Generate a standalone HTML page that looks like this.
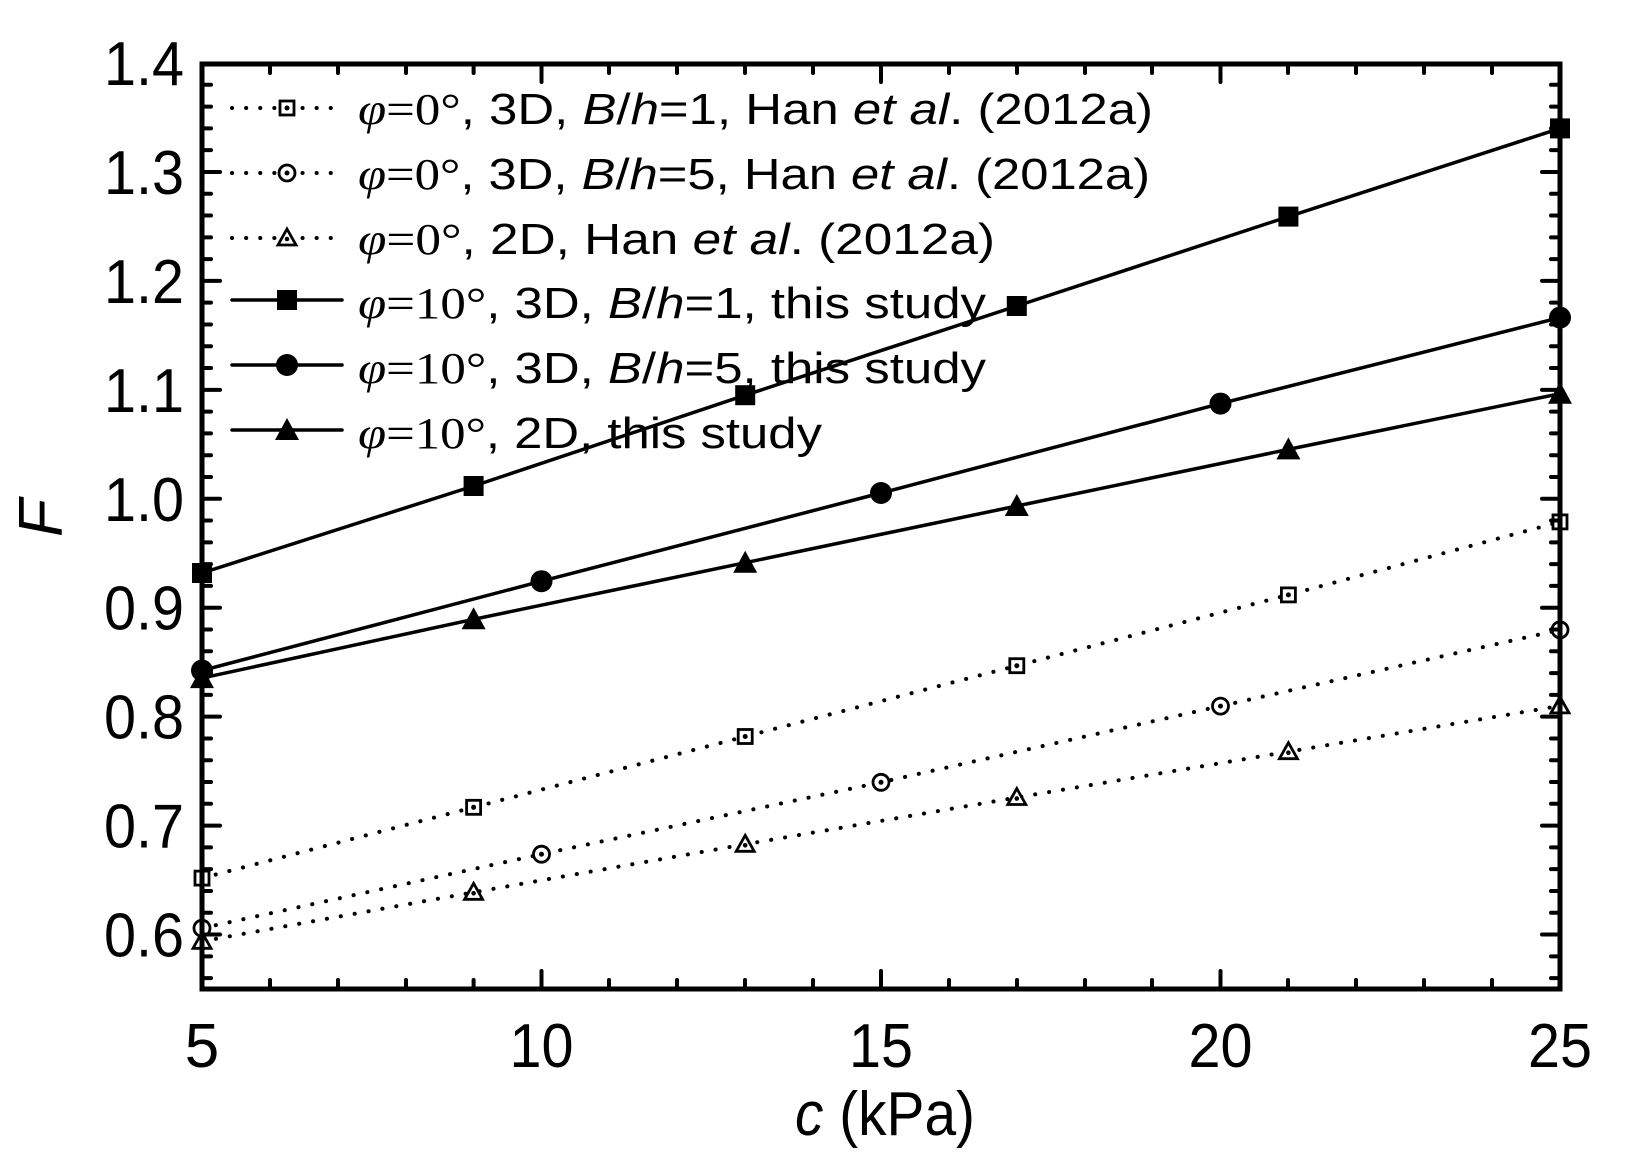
<!DOCTYPE html>
<html><head><meta charset="utf-8"><style>html,body{margin:0;padding:0;background:#fff}svg{display:block}</style></head><body>
<svg width="1633" height="1165" viewBox="0 0 1633 1165" xmlns="http://www.w3.org/2000/svg" font-family="Liberation Sans, sans-serif">
<defs>
<g id="sqS"><rect x="-10" y="-10" width="20" height="20" fill="#000"/></g>
<g id="ciS"><circle r="11" fill="#000"/></g>
<g id="trS"><polygon points="0,-12 12,10 -12,10" fill="#000"/></g>
<g id="sqO"><rect x="-7" y="-7" width="14" height="14" fill="#fff" stroke="#000" stroke-width="2.8"/><circle r="2.5" fill="#000"/></g>
<g id="ciO"><circle r="8" fill="#fff" stroke="#000" stroke-width="2.8"/><circle r="2.5" fill="#000"/></g>
<g id="trO"><polygon points="0,-9 9,7 -9,7" fill="#fff" stroke="#000" stroke-width="2.8"/><circle cy="1" r="2.3" fill="#000"/></g>
</defs>
<g transform="translate(0,-3)">
<g fill="none" stroke="#000" stroke-width="3.5" stroke-linecap="round">
<polyline points="202,576 473.6,489 745.2,398.2 1016.8,309 1288.4,219.6 1560,131.4"/>
<polyline points="202,673.5 541.5,584.2 881,496 1220.5,406.6 1560,320.6"/>
<polyline points="202,681.1 473.6,622.3 745.2,565.7 1016.8,509 1288.4,452.4 1560,396.7"/>
</g>
<g fill="none" stroke="#000" stroke-width="4" stroke-linecap="round" stroke-dasharray="0.1 14">
<polyline points="202,881.1 473.6,810.3 745.2,739.5 1016.8,668.7 1288.4,597.9 1560,524.9"/>
<polyline points="202,931.2 541.5,857.2 881,785.3 1220.5,709.1 1560,632.8"/>
<polyline points="202,944.3 473.6,895.3 745.2,847.3 1016.8,800.5 1288.4,754.7 1560,708.9"/>
</g>
<g>
<use href="#sqS" x="202" y="576"/><use href="#sqS" x="473.6" y="489"/><use href="#sqS" x="745.2" y="398.2"/><use href="#sqS" x="1016.8" y="309"/><use href="#sqS" x="1288.4" y="219.6"/><use href="#sqS" x="1560" y="131.4"/>
<use href="#ciS" x="202" y="673.5"/><use href="#ciS" x="541.5" y="584.2"/><use href="#ciS" x="881" y="496"/><use href="#ciS" x="1220.5" y="406.6"/><use href="#ciS" x="1560" y="320.6"/>
<use href="#trS" x="202" y="681.1"/><use href="#trS" x="473.6" y="622.3"/><use href="#trS" x="745.2" y="565.7"/><use href="#trS" x="1016.8" y="509"/><use href="#trS" x="1288.4" y="452.4"/><use href="#trS" x="1560" y="396.7"/>
<use href="#sqO" x="202" y="881.1"/><use href="#sqO" x="473.6" y="810.3"/><use href="#sqO" x="745.2" y="739.5"/><use href="#sqO" x="1016.8" y="668.7"/><use href="#sqO" x="1288.4" y="597.9"/><use href="#sqO" x="1560" y="524.9"/>
<use href="#ciO" x="202" y="931.2"/><use href="#ciO" x="541.5" y="857.2"/><use href="#ciO" x="881" y="785.3"/><use href="#ciO" x="1220.5" y="709.1"/><use href="#ciO" x="1560" y="632.8"/>
<use href="#trO" x="202" y="944.3"/><use href="#trO" x="473.6" y="895.3"/><use href="#trO" x="745.2" y="847.3"/><use href="#trO" x="1016.8" y="800.5"/><use href="#trO" x="1288.4" y="754.7"/><use href="#trO" x="1560" y="708.9"/>
</g>
</g>
<!-- legend -->
<g fill="none" stroke="#000" stroke-width="3.5" stroke-linecap="round">
<line x1="232" y1="300" x2="342" y2="300"/><line x1="232" y1="365" x2="342" y2="365"/><line x1="232" y1="430" x2="342" y2="430"/>
</g>
<g fill="none" stroke="#000" stroke-width="4" stroke-linecap="round" stroke-dasharray="0.1 14">
<line x1="232" y1="108" x2="342" y2="108"/><line x1="232" y1="173" x2="342" y2="173"/><line x1="232" y1="238" x2="342" y2="238"/>
</g>
<use href="#sqO" x="287" y="108"/><use href="#ciO" x="287" y="173"/><use href="#trO" x="287" y="238"/>
<use href="#sqS" x="287" y="300"/><use href="#ciS" x="287" y="365"/><use href="#trS" x="287" y="430"/>
<g font-size="44" fill="#000">
<text x="358" y="124" textLength="795" lengthAdjust="spacingAndGlyphs"><tspan font-family="Liberation Serif, serif" font-style="italic">φ</tspan><tspan font-family="Liberation Serif, serif">=0°</tspan>, 3D, <tspan font-style="italic">B</tspan>/<tspan font-style="italic">h</tspan>=1, Han <tspan font-style="italic">et al</tspan>. (2012a)</text>
<text x="358" y="189" textLength="792" lengthAdjust="spacingAndGlyphs"><tspan font-family="Liberation Serif, serif" font-style="italic">φ</tspan><tspan font-family="Liberation Serif, serif">=0°</tspan>, 3D, <tspan font-style="italic">B</tspan>/<tspan font-style="italic">h</tspan>=5, Han <tspan font-style="italic">et al</tspan>. (2012a)</text>
<text x="358" y="254" textLength="637" lengthAdjust="spacingAndGlyphs"><tspan font-family="Liberation Serif, serif" font-style="italic">φ</tspan><tspan font-family="Liberation Serif, serif">=0°</tspan>, 2D, Han <tspan font-style="italic">et al</tspan>. (2012a)</text>
<text x="358" y="318" textLength="628" lengthAdjust="spacingAndGlyphs"><tspan font-family="Liberation Serif, serif" font-style="italic">φ</tspan><tspan font-family="Liberation Serif, serif">=10°</tspan>, 3D, <tspan font-style="italic">B</tspan>/<tspan font-style="italic">h</tspan>=1, this study</text>
<text x="358" y="383" textLength="628" lengthAdjust="spacingAndGlyphs"><tspan font-family="Liberation Serif, serif" font-style="italic">φ</tspan><tspan font-family="Liberation Serif, serif">=10°</tspan>, 3D, <tspan font-style="italic">B</tspan>/<tspan font-style="italic">h</tspan>=5, this study</text>
<text x="358" y="448" textLength="464" lengthAdjust="spacingAndGlyphs"><tspan font-family="Liberation Serif, serif" font-style="italic">φ</tspan><tspan font-family="Liberation Serif, serif">=10°</tspan>, 2D, this study</text>
</g>
<g stroke="#000" stroke-linecap="round">
<path stroke-width="4" d="
M270,989v-9M338,989v-9M406,989v-9M473.6,989v-9M609,989v-9M677,989v-9M745,989v-9M813,989v-9M949,989v-9M1017,989v-9M1085,989v-9M1152,989v-9M1288,989v-9M1356,989v-9M1424,989v-9M1492,989v-9
M881,989v-18M1220.5,989v-18M541.5,989v-18
M270,64v9M338,64v9M406,64v9M473.6,64v9M609,64v9M677,64v9M745,64v9M813,64v9M949,64v9M1017,64v9M1085,64v9M1152,64v9M1288,64v9M1356,64v9M1424,64v9M1492,64v9
M881,64v18M1220.5,64v18M541.5,64v18"/>
</g>
<g id="yt" stroke="#000" stroke-width="4" stroke-linecap="round"></g>
<rect x="202" y="64" width="1358" height="925" fill="none" stroke="#000" stroke-width="5"/>
<g font-size="62" fill="#000" text-anchor="end" id="yl"></g>
<g font-size="62" fill="#000" text-anchor="middle">
<text x="202" y="1067">5</text>
<text x="541.5" y="1067" textLength="64" lengthAdjust="spacingAndGlyphs">10</text>
<text x="881" y="1067" textLength="64" lengthAdjust="spacingAndGlyphs">15</text>
<text x="1220.5" y="1067" textLength="64" lengthAdjust="spacingAndGlyphs">20</text>
<text x="1560" y="1067" textLength="64" lengthAdjust="spacingAndGlyphs">25</text>
<text x="885" y="1135" textLength="180" lengthAdjust="spacingAndGlyphs"><tspan font-style="italic">c</tspan> (kPa)</text>
<text transform="translate(62,518) rotate(-90)" font-style="italic">F</text>
</g>
<script>
var ns="http://www.w3.org/2000/svg",yt=document.getElementById("yt"),yl=document.getElementById("yl");
function Y(f){return 989-(f-0.55)*1089.4;}
var d="";
for(var i=0;i<=42;i++){var f=0.56+i*0.02;if(f>1.395)break;var y=Y(f);var maj=(Math.round(f*100)%10===0);var L=maj?18:9;d+="M202,"+y+"h"+L+"M1560,"+y+"h-"+L;}
var p=document.createElementNS(ns,"path");p.setAttribute("d",d);yt.appendChild(p);
for(var k=6;k<=14;k++){var t=document.createElementNS(ns,"text");t.setAttribute("x","184");t.setAttribute("y",Y(k/10)+22);t.setAttribute("textLength","80");t.setAttribute("lengthAdjust","spacingAndGlyphs");t.textContent=(k/10).toFixed(1);yl.appendChild(t);}
</script>
</svg>
</body></html>
